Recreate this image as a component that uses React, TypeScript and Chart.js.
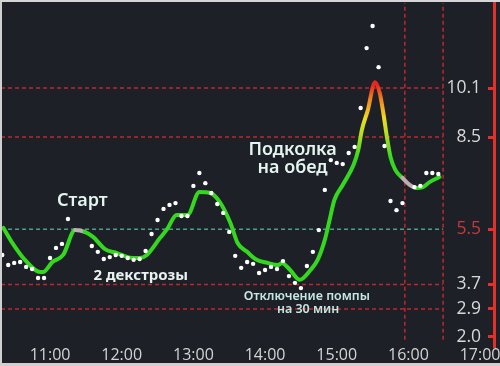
import React, { useEffect, useRef } from "react";
import { Chart, registerables } from "chart.js";

Chart.register(...registerables);

// ---- data ----
const xTickLabels = ["11:00", "12:00", "13:00", "14:00", "15:00", "16:00", "17:00"];
const yTickValues = [2.0, 2.9, 3.7, 5.5, 8.5, 10.1];
const redLevels = [10.1, 8.5, 3.7, 2.9];
const targetLevel = 5.5;
const levelLineStart = "10:19";
const levelLineEnd = "16:29";
const markerTimes = ["15:57", "16:29"];
const markerBottom = 1.9;

const X_MIN = 10.33;
const X_MAX = 17.11;
const Y_MIN = 1.66;
const Y_MAX = 12.87;

const lineTimes = [
  "10:21", "10:28", "10:39", "10:52", "10:54", "11:02", "11:11", "11:21", "11:29", "11:36",
  "11:46", "11:56", "12:05", "12:15", "12:21", "12:32", "12:38", "12:46", "12:55", "13:05",
  "13:14", "13:22", "13:31", "13:37", "13:45", "13:53", "14:02", "14:11", "14:14", "14:21",
  "14:29", "14:38", "14:44", "14:50", "14:54", "14:58", "15:05", "15:14", "15:18", "15:21",
  "15:26", "15:32", "15:36", "15:39", "15:42", "15:45", "15:49", "15:55", "16:01", "16:07",
  "16:12", "16:18", "16:26",
];
const lineValues = [
  5.54, 5.08, 4.5, 4.1, 4.1, 4.43, 4.66, 5.47, 5.41, 5.25,
  4.85, 4.72, 4.59, 4.56, 4.66, 5.21, 5.5, 5.96, 5.96, 6.71,
  6.68, 6.39, 5.7, 5.05, 4.76, 4.5, 4.4, 4.33, 4.4, 4.17,
  3.85, 4.17, 4.5, 5.15, 5.8, 6.45, 6.94, 7.59, 8.08, 8.73,
  9.38, 10.29, 9.94, 9.28, 8.5, 7.85, 7.43, 7.17, 6.94, 6.84,
  6.87, 7.04, 7.2,
];
const graySegmentStarts = [7, 47, 48];

const dotTimes = [
  "10:20", "10:25", "10:30", "10:35", "10:40", "10:45", "10:50", "10:55", "11:00", "11:05", "11:10", "11:15",
  "11:35", "11:40", "11:45", "11:50", "11:55", "12:00", "12:05", "12:10", "12:15", "12:20", "12:25", "12:30",
  "12:35", "12:40", "12:45", "12:50", "12:55",
  "13:00", "13:05", "13:10", "13:15", "13:20", "13:25", "13:30", "13:35", "13:40", "13:45", "13:50", "13:55",
  "14:00", "14:05", "14:10", "14:15", "14:20", "14:25", "14:30", "14:35", "14:40", "14:45", "14:50", "14:55",
  "15:00", "15:05", "15:10", "15:15", "15:20", "15:25", "15:30", "15:35", "15:40", "15:45", "15:50", "15:55",
  "16:05", "16:10", "16:15", "16:20", "16:25",
];
const dotValues = [
  4.66, 4.33, 4.4, 4.43, 4.27, 4.2, 3.91, 3.91, 4.56, 4.89, 5.02, 5.83,
  4.95, 4.76, 4.53, 4.59, 4.66, 4.63, 4.56, 4.5, 4.53, 4.79, 5.34, 5.8,
  6.16, 6.29, 6.35, 5.93, 5.93,
  6.91, 7.33, 7.0, 6.68, 6.32, 6.03, 5.41, 4.63, 4.24, 4.43, 4.37, 4.07,
  4.17, 4.27, 4.2, 4.46, 3.97, 3.75, 3.58, 4.3, 4.76, 5.47, 6.78, 7.75,
  7.66, 7.62, 7.98, 8.18, 9.45, 11.4, 12.12, 10.78, 8.21, 6.42, 6.12, 6.35,
  6.87, 6.91, 7.33, 7.33, 7.3,
];

const noteTexts = ["Старт", "Подколка", "на обед", "2 декстрозы", "Отключение помпы", "на 30 мин"];
const noteTimes = ["11:27", "14:23", "14:23", "12:16", "14:35", "14:36"];
const noteValues = [6.42, 8.08, 7.49, 3.98, 3.32, 2.9];

// ---- styles ----
const noteStyles = [
  { size: 18, weight: 600, color: "#e4f4ee" },
  { size: 18, weight: 600, color: "#e4f4ee" },
  { size: 18, weight: 600, color: "#e4f4ee" },
  { size: 15, weight: 700, color: "#e8f2ee" },
  { size: 12.5, weight: 600, color: "#c4e8e0" },
  { size: 12.5, weight: 600, color: "#c4e8e0" },
];

const BG = "#1d2027";
const GREEN = "#33d81f";
const RED_LINE = "rgba(200,40,45,0.95)";
const AXIS_RED = "#e2302a";

const hm = (s: string) => {
  const [h, m] = s.split(":").map(Number);
  return h + m / 60;
};
const fmtTime = (v: number) => {
  const h = Math.floor(v + 1e-6);
  const m = Math.round((v - h) * 60);
  return `${h}:${String(m).padStart(2, "0")}`;
};

const zeroPad = (s: any) => {
  s.paddingLeft = 0;
  s.paddingRight = 0;
  s.paddingTop = 0;
  s.paddingBottom = 0;
};

const notesPlugin = {
  id: "notes",
  afterDatasetsDraw(chart: any) {
    const { ctx, scales } = chart;
    const x = scales.x;
    const y = scales.y;
    ctx.save();
    ctx.textAlign = "center";
    ctx.textBaseline = "middle";
    noteTexts.forEach((txt, i) => {
      const st = noteStyles[i];
      ctx.font = `${st.weight} ${st.size}px "Noto Sans", sans-serif`;
      ctx.fillStyle = st.color;
      ctx.fillText(txt, x.getPixelForValue(hm(noteTimes[i])), y.getPixelForValue(noteValues[i]));
    });
    ctx.restore();
  },
};

export default function App() {
  const ref = useRef<HTMLCanvasElement>(null);

  useEffect(() => {
    if (!ref.current) return;

    const lineGradient = (c: any) => {
      const chart = c.chart;
      const { chartArea, scales } = chart;
      if (!chartArea) return GREEN;
      const y = scales.y;
      const g = chart.ctx.createLinearGradient(0, y.getPixelForValue(7.8), 0, y.getPixelForValue(10.2));
      g.addColorStop(0, GREEN);
      g.addColorStop(0.35, "#b8e020");
      g.addColorStop(0.55, "#f0dc1e");
      g.addColorStop(0.8, "#f0861e");
      g.addColorStop(1, "#e8261e");
      return g;
    };

    const levelDatasets = redLevels.map((v) => ({
      type: "line" as const,
      data: [
        { x: hm(levelLineStart), y: v },
        { x: hm(levelLineEnd), y: v },
      ],
      borderColor: RED_LINE,
      borderWidth: 1.5,
      borderDash: [4, 3],
      pointRadius: 0,
      order: 3,
    }));
    const targetDataset = {
      type: "line" as const,
      data: [
        { x: hm(levelLineStart), y: targetLevel },
        { x: hm(levelLineEnd), y: targetLevel },
      ],
      borderColor: "rgba(80,165,145,0.95)",
      borderWidth: 1.5,
      borderDash: [4, 3],
      pointRadius: 0,
      order: 3,
    };
    const markerDatasets = markerTimes.map((t) => ({
      type: "line" as const,
      data: [
        { x: hm(t), y: markerBottom },
        { x: hm(t), y: Y_MAX },
      ],
      borderColor: RED_LINE,
      borderWidth: 1.5,
      borderDash: [4, 3],
      pointRadius: 0,
      order: 3,
    }));

    const chart = new Chart(ref.current, {
      type: "line",
      data: {
        datasets: [
          {
            data: dotTimes.map((t, i) => ({ x: hm(t), y: dotValues[i] })),
            showLine: false,
            pointRadius: 2.2,
            pointBackgroundColor: "#ffffff",
            pointBorderWidth: 0,
            order: 0,
          },
          {
            data: lineTimes.map((t, i) => ({ x: hm(t), y: lineValues[i] })),
            borderColor: lineGradient,
            borderWidth: 4,
            borderCapStyle: "round",
            borderJoinStyle: "round",
            cubicInterpolationMode: "monotone",
            pointRadius: 0,
            segment: {
              borderColor: (c: any) => (graySegmentStarts.includes(c.p0DataIndex) ? "#b9afaf" : undefined),
            },
            order: 1,
          },
          ...levelDatasets,
          targetDataset,
          ...markerDatasets,
        ] as any,
      },
      options: {
        animation: false,
        responsive: false,
        devicePixelRatio: 1,
        layout: { autoPadding: false, padding: { left: 0, top: 1, right: 6, bottom: 0 } },
        plugins: { legend: { display: false }, tooltip: { enabled: false } },
        scales: {
          x: {
            type: "linear",
            min: X_MIN,
            max: X_MAX,
            grid: { display: false, drawTicks: false },
            border: { display: false },
            afterBuildTicks: (s: any) => {
              s.ticks = xTickLabels.map((l) => ({ value: hm(l) }));
            },
            afterFit: zeroPad,
            ticks: {
              color: "#d4d4d4",
              font: { family: '"Open Sans", sans-serif', size: 16, lineHeight: 1 },
              padding: 0,
              maxRotation: 0,
              autoSkip: false,
              callback: (v: any) => fmtTime(Number(v)),
            },
          },
          y: {
            type: "linear",
            position: "right",
            min: Y_MIN,
            max: Y_MAX,
            weight: 0,
            afterBuildTicks: (s: any) => {
              s.ticks = yTickValues.map((v) => ({ value: v }));
            },
            afterFit: (s: any) => {
              zeroPad(s);
              s.width = 6;
            },
            grid: { drawOnChartArea: false, drawTicks: true, tickLength: 6, color: AXIS_RED, lineWidth: 3 },
            border: { display: false },
            ticks: {
              mirror: true,
              padding: -7,
              color: (c: any) => (c.tick && c.tick.value === targetLevel ? "#c8383a" : "#d8d8d8"),
              font: { family: '"Open Sans", sans-serif', size: 17.5 },
              callback: (v: any) => Number(v).toFixed(1),
            },
          },
          y2: {
            type: "linear",
            position: "right",
            min: 0,
            max: 1,
            weight: 1,
            afterFit: (s: any) => {
              zeroPad(s);
              s.width = 0;
            },
            grid: { display: false, drawTicks: false },
            ticks: { display: false },
            border: { display: true, color: AXIS_RED, width: 3 },
          },
        },
      } as any,
      plugins: [notesPlugin],
    });

    return () => chart.destroy();
  }, []);

  return (
    <div
      style={{
        position: "fixed",
        left: 0,
        top: 0,
        width: 500,
        height: 366,
        boxSizing: "border-box",
        background: BG,
        borderLeft: "2px solid #cfcfcf",
        borderTop: "2px solid #d6d6d6",
        borderBottom: "3px solid #cfcfcf",
      }}
    >
      <canvas ref={ref} width={498} height={361} style={{ display: "block" }} />
    </div>
  );
}
